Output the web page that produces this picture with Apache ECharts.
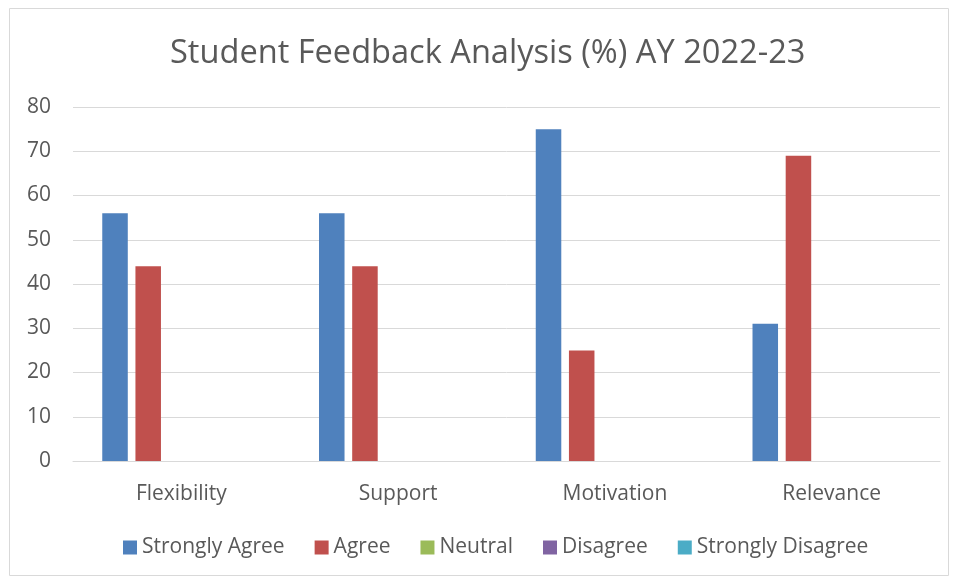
<!DOCTYPE html>
<html><head><meta charset="utf-8">
<script src="https://cdn.jsdelivr.net/npm/echarts@6/dist/echarts.min.js"></script>
<style>html,body{margin:0;padding:0;background:#fff}#c{width:957px;height:582px}</style>
</head><body><div id="c"></div>
<script>
const categories = ['Flexibility', 'Support', 'Motivation', 'Relevance'];
const seriesNames = ['Strongly Agree', 'Agree', 'Neutral', 'Disagree', 'Strongly Disagree'];
const stronglyAgree = [56, 56, 75, 31];
const agree = [44, 44, 25, 69];
const neutral = [0, 0, 0, 0];
const disagree = [0, 0, 0, 0];
const stronglyDisagree = [0, 0, 0, 0];
const yTicks = [0, 10, 20, 30, 40, 50, 60, 70, 80];
const colors = ['#4F81BD', '#C0504D', '#9BBB59', '#8064A2', '#4BACC6'];
const values = [stronglyAgree, agree, neutral, disagree, stronglyDisagree];

const FONT = 'Open Sans';
const TXT = '#595959';
const chart = echarts.init(document.getElementById('c'), null, {renderer: 'canvas'});
chart.setOption({
  animation: false,
  color: colors,
  textStyle: {fontFamily: FONT, color: TXT},
  graphic: [{type: 'rect', shape: {x: 9.5, y: 8.5, width: 939, height: 567}, style: {fill: 'none', stroke: '#d9d9d9', lineWidth: 1}, silent: true}],
  title: {
    text: 'Student Feedback Analysis (%) AY 2022-23',
    left: 165, top: 32,
    textStyle: {fontFamily: FONT, fontSize: 32.6, fontWeight: 'normal', color: TXT}
  },
  legend: {
    bottom: 19, left: 118,
    itemWidth: 14, itemHeight: 14, itemGap: 30,
    icon: 'rect',
    textStyle: {fontFamily: FONT, fontSize: 21, color: TXT, padding: [0, 0, 0, 0]},
    data: seriesNames
  },
  grid: {left: 73, right: 17, top: 107, bottom: 121, containLabel: false},
  xAxis: {
    type: 'category', data: categories,
    axisLine: {lineStyle: {color: '#d9d9d9', width: 1}},
    axisTick: {show: false},
    axisLabel: {fontFamily: FONT, fontSize: 21, color: TXT, margin: 23}
  },
  yAxis: {
    type: 'value', min: 0, max: 80, interval: 10,
    axisLine: {show: false}, axisTick: {show: false},
    splitLine: {lineStyle: {color: '#d9d9d9', width: 1}},
    axisLabel: {fontFamily: FONT, fontSize: 21, color: TXT, margin: 22,
      formatter: v => yTicks.includes(v) ? String(v) : ''}
  },
  series: seriesNames.map((n, i) => ({
    name: n, type: 'bar', data: values[i],
    barGap: '30%', barCategoryGap: '27%'
  }))
});
</script></body></html>
